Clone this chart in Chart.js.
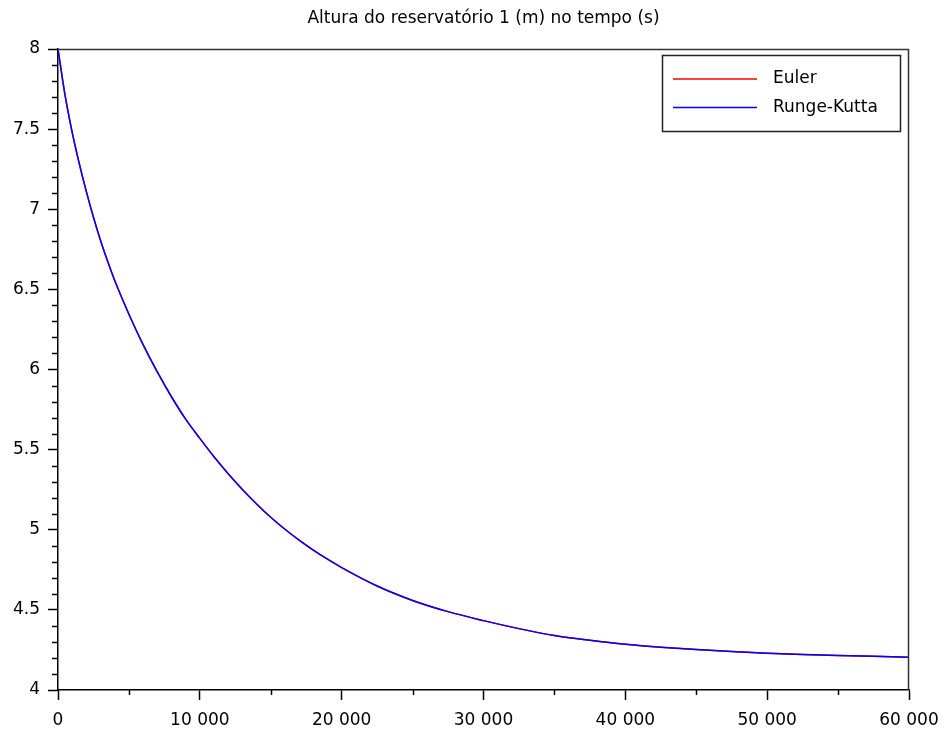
<!DOCTYPE html>
<html>
<head>
<meta charset="utf-8">
<script src="https://cdn.jsdelivr.net/npm/chart.js@4"></script>
<style>
html,body{margin:0;padding:0;background:#fff;}
canvas{display:block;}
</style>
</head>
<body>
<canvas id="c" width="944" height="731"></canvas>
<script>
// ---- data ----
const titleText = 'Altura do reservatório 1 (m) no tempo (s)';
const seriesNames = ['Euler', 'Runge-Kutta'];
const seriesColors = ['#ff0000', '#0000ff'];
const time = [0,500,1000,1500,2000,2500,3000,3500,4000,5000,6000,7000,8000,9000,10000,11000,12000,13000,14000,15000,16000,17000,18000,19000,20000,22500,25000,27500,30000,32500,35000,37500,40000,42500,45000,47500,50000,52500,55000,57500,60000];
const eulerHeight = [8.000,7.710,7.480,7.285,7.110,6.950,6.805,6.675,6.555,6.345,6.155,5.985,5.830,5.690,5.570,5.455,5.349,5.251,5.161,5.078,5.003,4.935,4.873,4.816,4.764,4.649,4.559,4.489,4.433,4.383,4.340,4.310,4.285,4.267,4.252,4.240,4.230,4.222,4.215,4.210,4.205];
const rkHeight    = [8.000,7.710,7.480,7.285,7.110,6.950,6.805,6.675,6.555,6.345,6.155,5.985,5.830,5.690,5.570,5.455,5.349,5.251,5.161,5.078,5.003,4.935,4.873,4.816,4.764,4.649,4.559,4.489,4.433,4.383,4.340,4.310,4.285,4.267,4.252,4.240,4.230,4.222,4.215,4.210,4.205];
const xTicks = [0,10000,20000,30000,40000,50000,60000];
const xTickLabels = ['0','10 000','20 000','30 000','40 000','50 000','60 000'];
const yTicks = [4,4.5,5,5.5,6,6.5,7,7.5,8];
const yTickLabels = ['4','4.5','5','5.5','6','6.5','7','7.5','8'];
const xMinorPerMajor = 2;
const yMinorPerMajor = 5;

const FONT = 'DejaVu Sans';

const frameAndMinor = {
  id: 'frameAndMinor',
  afterDraw(chart) {
    const ctx = chart.ctx, a = chart.chartArea;
    const xs = chart.scales.x, ys = chart.scales.y;
    ctx.save();
    // top & right frame
    ctx.strokeStyle = '#333';
    ctx.lineWidth = 1.5;
    ctx.beginPath();
    ctx.moveTo(a.left, a.top + 0.5);
    ctx.lineTo(a.right - 0.5, a.top + 0.5);
    ctx.lineTo(a.right - 0.5, a.bottom);
    ctx.stroke();
    // minor ticks
    ctx.strokeStyle = '#000';
    ctx.lineWidth = 1.5;
    ctx.beginPath();
    for (let i = 0; i < xTicks.length - 1; i++) {
      const step = (xTicks[i+1] - xTicks[i]) / xMinorPerMajor;
      for (let k = 1; k < xMinorPerMajor; k++) {
        const px = Math.round(xs.getPixelForValue(xTicks[i] + k * step)) + 0.5;
        ctx.moveTo(px, a.bottom);
        ctx.lineTo(px, a.bottom + 5);
      }
    }
    for (let i = 0; i < yTicks.length - 1; i++) {
      const step = (yTicks[i+1] - yTicks[i]) / yMinorPerMajor;
      for (let k = 1; k < yMinorPerMajor; k++) {
        const py = Math.round(ys.getPixelForValue(yTicks[i] + k * step)) + 0.5;
        ctx.moveTo(a.left, py);
        ctx.lineTo(a.left - 6, py);
      }
    }
    ctx.stroke();
    // legend box
    const bw = 238, bh = 76;
    const bx = a.right - 9 - bw, by = a.top + 6;
    ctx.fillStyle = '#fff';
    ctx.fillRect(bx, by, bw, bh);
    ctx.strokeStyle = '#222';
    ctx.lineWidth = 1.5;
    ctx.strokeRect(bx + 0.5, by + 0.5, bw, bh);
    chart.data.datasets.forEach((ds, i) => {
      const ly = by + 24 + i * 28.5;
      ctx.strokeStyle = ds.borderColor;
      ctx.lineWidth = 1.5;
      ctx.beginPath();
      ctx.moveTo(bx + 11, ly);
      ctx.lineTo(bx + 95, ly);
      ctx.stroke();
      ctx.fillStyle = '#000';
      ctx.font = '17px "' + FONT + '"';
      ctx.textBaseline = 'middle';
      ctx.textAlign = 'left';
      ctx.fillText(ds.label, bx + 111, ly);
    });
    ctx.restore();
  }
};

const datasets = [eulerHeight, rkHeight].map((arr, i) => ({
  label: seriesNames[i],
  data: time.map((t, j) => ({x: t, y: arr[j]})),
  borderColor: seriesColors[i],
  backgroundColor: seriesColors[i],
  borderWidth: 1.5,
  pointRadius: 0,
  cubicInterpolationMode: 'monotone',
  fill: false,
  order: i === 0 ? 2 : 1
}));

new Chart(document.getElementById('c'), {
  type: 'line',
  data: { datasets },
  plugins: [frameAndMinor],
  options: {
    responsive: false,
    animation: false,
    devicePixelRatio: 1,
    layout: { padding: { left: 0, right: 35, top: 0, bottom: 0 } },
    plugins: {
      legend: { display: false },
      tooltip: { enabled: false },
      title: {
        display: true,
        text: titleText,
        fullSize: false,
        color: '#000',
        font: { family: FONT, size: 17, weight: 'normal' },
        padding: { top: 8, bottom: 20.6 }
      }
    },
    scales: {
      x: {
        type: 'linear',
        min: 0, max: 60000,
        afterBuildTicks: s => { s.ticks = xTicks.map(v => ({value: v})); },
        afterFit: s => { s.height = 41; s.paddingLeft = 0; s.paddingRight = 0; },
        grid: { drawOnChartArea: false, drawTicks: true, tickLength: 10, color: '#000', tickWidth: 1.5 },
        border: { display: true, color: '#000', width: 1.5 },
        ticks: {
          color: '#000', padding: 10, maxRotation: 0, autoSkip: false,
          font: { family: FONT, size: 17 },
          callback: (v, i) => xTickLabels[i]
        }
      },
      y: {
        type: 'linear',
        min: 4, max: 8,
        afterBuildTicks: s => { s.ticks = yTicks.map(v => ({value: v})); },
        afterFit: s => { s.width = 58; },
        grid: { drawOnChartArea: false, drawTicks: true, tickLength: 10, color: '#000', tickWidth: 1.5 },
        border: { display: true, color: '#000', width: 1.5 },
        ticks: {
          color: '#000', padding: 8, autoSkip: false,
          font: { family: FONT, size: 17 },
          callback: (v, i) => yTickLabels[i]
        }
      }
    }
  }
});
</script>
</body>
</html>
